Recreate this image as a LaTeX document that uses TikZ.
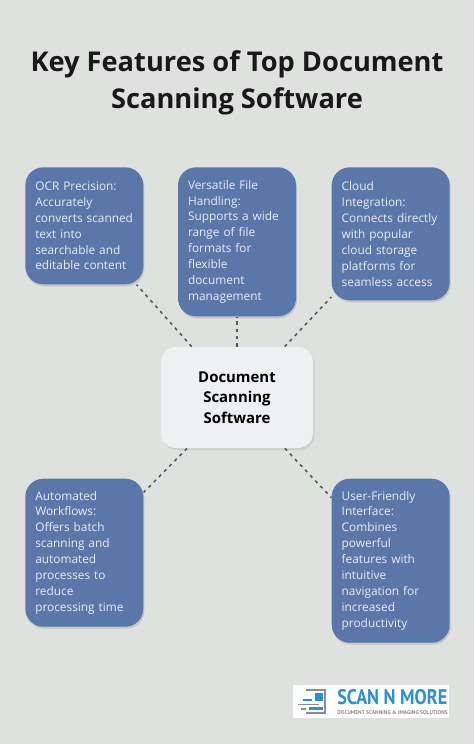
\documentclass[tikz,border=0pt]{standalone}
\usepackage{fontspec}
\setmainfont{Open Sans}
\newfontfamily\logofont{PT Sans}
\usepackage{xcolor}
\usetikzlibrary{positioning,shadows,calc}
\definecolor{pagebg}{HTML}{DFE1DF}
\definecolor{boxblue}{HTML}{5B76A9}
\definecolor{boxtext}{HTML}{E8ECF3}
\definecolor{hubfill}{HTML}{EEF0F1}
\definecolor{linkgray}{HTML}{55585A}
\definecolor{logoblue}{HTML}{2A8FD8}
\definecolor{logogray}{HTML}{8A8D90}

\begin{document}
\begin{tikzpicture}[
  feature/.style={rectangle, rounded corners=0.36cm, fill=boxblue, text=boxtext,
    minimum width=2.36cm, text width=1.96cm, inner xsep=0.2cm, inner ysep=0.2cm,
    align=left, font=\fontsize{6.75}{9.07}\selectfont,
    general shadow={fill=black, opacity=0.12, shadow xshift=0.02cm, shadow yshift=-0.04cm}},
  hub/.style={rectangle, rounded corners=0.3cm, fill=hubfill, text=black,
    minimum width=3.04cm, minimum height=2.02cm, align=center,
    font=\fontsize{8.5}{11.6}\selectfont\bfseries,
    general shadow={fill=black, opacity=0.08, shadow xshift=0.03cm, shadow yshift=-0.04cm}},
  link/.style={line width=0.9pt, linkgray, dash pattern=on 1.8pt off 2.4pt},
  headline/.style={align=center, text=black!90, font=\fontsize{15.5}{21}\selectfont\bfseries},
  logobar/.style={fill=logogray, draw=none},
  logocell/.style={fill=logoblue, draw=none}
]

% Page
\fill[pagebg] (0,0) rectangle (9.48,-14.88);
\useasboundingbox (0,0) rectangle (9.48,-14.88);

% Title
\node[headline] (title) at (4.74,-1.65)
  {Key Features of Top Document\\Scanning Software};

% Centre node
\node[hub] (hub) at (4.74,-7.95) {Document\\Scanning\\Software};

% Feature boxes
\node[feature, minimum height=2.34cm, above left=1.24cm and 0.34cm of hub] (ocr)
  {OCR Precision:\\Accurately\\converts scanned\\text into\\searchable and\\editable content};
\node[feature, minimum height=2.98cm, above=0.6cm of hub] (files)
  {Versatile File\\Handling:\\Supports a wide\\range of file\\formats for\\flexible\\document\\management};
\node[feature, minimum height=2.66cm, above right=0.92cm and 0.36cm of hub] (cloud)
  {Cloud\\Integration:\\Connects directly\\with popular\\cloud storage\\platforms for\\seamless access};
\node[feature, minimum height=2.96cm, below left=0.6cm and 0.34cm of hub] (auto)
  {Automated\\Workflows:\\Offers batch\\scanning and\\automated\\processes to\\reduce\\processing time};
\node[feature, minimum height=3.28cm, below right=0.6cm and 0.36cm of hub] (user)
  {User-Friendly\\Interface:\\Combines\\powerful\\features with\\intuitive\\navigation for\\increased\\productivity};

% Connections from centre
\draw[link] (hub) -- (ocr);
\draw[link] (hub) -- (files);
\draw[link] (hub) -- (cloud);
\draw[link] (hub) -- (auto);
\draw[link] (hub) -- (user);

% Logo
\fill[white] (5.86,-13.7) rectangle (8.98,-14.36);
\draw[logogray, line width=1pt] (6.12,-13.8) -- (6.5,-13.8) -- (6.5,-14.26) -- (6.12,-14.26);
\fill[logocell] (6.3,-13.86) rectangle (6.46,-14.02);
\fill[logocell] (6.06,-13.98) rectangle (6.24,-14.02);
\fill[logobar] (5.96,-14.07) rectangle (6.38,-14.1);
\fill[logocell] (6.18,-14.14) rectangle (6.46,-14.19);
\fill[logobar] (6.02,-14.15) rectangle (6.12,-14.19);
\node[anchor=west, inner sep=0pt, text=logoblue, transform shape, xscale=0.86,
  font=\logofont\bfseries\fontsize{12}{13}\selectfont] (brand) at (6.74,-13.95) {SCAN N MORE};
\node[anchor=west, inner sep=0pt, text=logogray,
  font=\logofont\bfseries\fontsize{3.1}{4}\selectfont] (tagline) at (6.74,-14.26)
  {DOCUMENT SCANNING \& IMAGING SOLUTIONS};

\end{tikzpicture}
\end{document}
